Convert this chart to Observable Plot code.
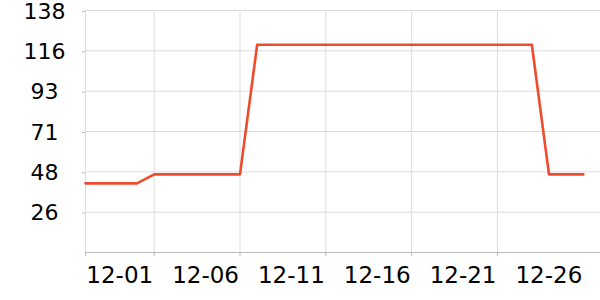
<!DOCTYPE html>
<html>
<head>
<meta charset="utf-8">
<script src="https://cdn.jsdelivr.net/npm/d3@7"></script>
<script src="https://cdn.jsdelivr.net/npm/@observablehq/plot@0.6"></script>
<style>
  html, body { margin: 0; padding: 0; background: #fff; }
  #chart svg { display: block; overflow: visible; }
</style>
</head>
<body>
<div id="chart"></div>
<script>
const dates = [
  "2023-11-27","2023-11-28","2023-11-29","2023-11-30",
  "2023-12-01","2023-12-02","2023-12-03","2023-12-04","2023-12-05","2023-12-06",
  "2023-12-07","2023-12-08","2023-12-09","2023-12-10","2023-12-11","2023-12-12",
  "2023-12-13","2023-12-14","2023-12-15","2023-12-16","2023-12-17","2023-12-18",
  "2023-12-19","2023-12-20","2023-12-21","2023-12-22","2023-12-23",
  "2023-12-24","2023-12-25","2023-12-26"
];
const values = [
  42, 42, 42, 42,
  47, 47, 47, 47, 47, 47,
  119, 119, 119, 119, 119, 119,
  119, 119, 119, 119, 119, 119,
  119, 119, 119, 119, 119,
  47, 47, 47
];
const yTicks = [26, 48.4, 70.8, 93.2, 115.6, 138];
const yDomain = [3.6, 138];
const xDomain = ["2023-11-27", "2023-12-27"];
const xGridDates = ["2023-11-27", "2023-12-01", "2023-12-06", "2023-12-11", "2023-12-16", "2023-12-21"];
const xLabelDates = ["2023-12-01", "2023-12-06", "2023-12-11", "2023-12-16", "2023-12-21", "2023-12-26"];
const xLabels = ["12-01", "12-06", "12-11", "12-16", "12-21", "12-26"];

const parse = d3.utcParse("%Y-%m-%d");
const data = dates.map((d, i) => ({date: parse(d), value: values[i]}));
const labelByTime = new Map(xLabelDates.map((d, i) => [+parse(d), xLabels[i]]));

const chart = Plot.plot({
  width: 600,
  height: 300,
  marginLeft: 85,
  marginRight: 0,
  marginTop: 10,
  marginBottom: 48,
  style: {fontFamily: "DejaVu Sans", color: "#000", background: "#fff", overflow: "visible"},
  x: {type: "utc", domain: xDomain.map(parse), label: null},
  y: {domain: yDomain, label: null},
  marks: [
    Plot.gridY(yTicks, {stroke: "#dcdcdc", strokeOpacity: 1}),
    Plot.gridX(xGridDates.map(parse), {stroke: "#dcdcdc", strokeOpacity: 1}),
    Plot.ruleY([yDomain[0]], {stroke: "#bbb"}),
    Plot.axisY(yTicks, {
      label: null,
      tickFormat: d => String(Math.round(d)),
      tickSize: 3, tickPadding: 38, textAnchor: "middle", dy: 1,
      fontSize: 22, stroke: "#bbb", fill: "#000"
    }),
    Plot.axisX(xGridDates.map(parse), {
      label: null, tickSize: 4, tickFormat: () => "", stroke: "#bbb"
    }),
    Plot.axisX(xLabelDates.map(parse), {
      label: null,
      tickSize: 0, tickPadding: 14, textAnchor: "end", dx: -1,
      tickFormat: d => labelByTime.get(+d), fontSize: 23, fill: "#000"
    }),
    Plot.line(data, {x: "date", y: "value", stroke: "#ef4b2c", strokeWidth: 2.6})
  ]
});
document.getElementById("chart").appendChild(chart);
</script>
</body>
</html>
